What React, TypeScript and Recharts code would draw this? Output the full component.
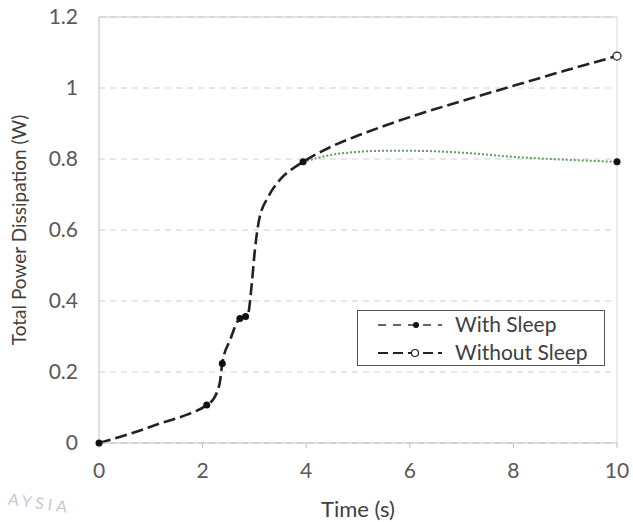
import {
  ComposedChart,
  Line,
  Scatter,
  XAxis,
  YAxis,
  CartesianGrid,
  ReferenceLine,
  Label,
} from 'recharts';

// shared curve (both runs identical until ~4 s)
const rampTime = [0, 0.6, 1.18, 1.7, 2.08, 2.2, 2.27, 2.34, 2.38, 2.53, 2.72, 2.83, 2.88, 2.95, 3.01, 3.09, 3.27, 3.49, 3.75, 3.94];
const rampPower = [0, 0.026, 0.055, 0.08, 0.107, 0.122, 0.14, 0.177, 0.224, 0.29, 0.351, 0.356, 0.365, 0.45, 0.544, 0.628, 0.694, 0.741, 0.774, 0.792];

// after ~4 s
const noSleepTime = [3.94, 4.5, 5, 6, 7, 8, 9, 10];
const noSleepPower = [0.792, 0.836, 0.866, 0.918, 0.963, 1.006, 1.049, 1.09];
const sleepTime = [3.94, 4.5, 5, 5.5, 6, 7, 8, 9, 10];
const sleepPower = [0.792, 0.812, 0.82, 0.823, 0.823, 0.818, 0.806, 0.798, 0.792];

// measured points
const sleepMarkTime = [0, 2.08, 2.38, 2.72, 2.83, 3.94, 10];
const sleepMarkPower = [0, 0.107, 0.224, 0.351, 0.356, 0.792, 0.792];
const noSleepMarkTime = [10];
const noSleepMarkPower = [1.09];

const xTicks = [0, 2, 4, 6, 8, 10];
const yTicks = [0, 0.2, 0.4, 0.6, 0.8, 1, 1.2];

const FONT = 'Lato, "Open Sans", sans-serif';
const TEXT = '#595959';

const zip = (xs: number[], ys: number[]) => xs.map((t, i) => ({ t, p: ys[i] }));

const rampData = zip(rampTime, rampPower);
const noSleepData = [...rampData, ...zip(noSleepTime, noSleepPower).slice(1)];
const sleepTail = zip(sleepTime, sleepPower);
const sleepMarks = zip(sleepMarkTime, sleepMarkPower);
const noSleepMarks = zip(noSleepMarkTime, noSleepMarkPower);

function LegendBox() {
  return (
    <div
      style={{
        position: 'absolute',
        left: 357,
        top: 310,
        width: 248,
        height: 56,
        border: '1px solid #555',
        background: '#fff',
        fontFamily: FONT,
        fontSize: 21,
        lineHeight: '24px',
        color: '#404040',
        boxSizing: 'border-box',
      }}
    >
      <svg width={90} height={54} style={{ position: 'absolute', left: 0, top: 0 }}>
        <line x1={20} y1={14} x2={84} y2={14} stroke="#333" strokeWidth={1.3} strokeDasharray="8 7" />
        <circle cx={58} cy={14} r={3} fill="#111" />
        <line x1={20} y1={42} x2={84} y2={42} stroke="#222" strokeWidth={2.2} strokeDasharray="10 5" />
        <circle cx={57} cy={42} r={3.5} fill="#fff" stroke="#222" strokeWidth={1.2} />
      </svg>
      <div style={{ position: 'absolute', left: 97, top: 1 }}>With Sleep</div>
      <div style={{ position: 'absolute', left: 97, top: 29 }}>Without Sleep</div>
    </div>
  );
}

export default function App() {
  return (
    <div style={{ position: 'absolute', left: 0, top: 0, width: 633, height: 522, background: '#fff' }}>
      <ComposedChart width={633} height={522} margin={{ top: 17, right: 16, bottom: 0, left: 0 }}>
        <CartesianGrid vertical={false} stroke="#d0d0d0" strokeDasharray="6 5" />
        <ReferenceLine y={1.2} stroke="#c8c8c8" />
        <ReferenceLine x={10} stroke="#d8d8d8" />
        <XAxis
          type="number"
          dataKey="t"
          domain={[0, 10]}
          ticks={xTicks}
          height={79}
          stroke="#bfbfbf"
          tickSize={5}
          tickMargin={15}
          tick={{ fontSize: 21, fill: TEXT, fontFamily: FONT }}
        >
          <Label
            value="Time (s)"
            position="insideBottom"
            offset={5}
            style={{ fontSize: 22, fill: '#404040', fontFamily: FONT }}
          />
        </XAxis>
        <YAxis
          type="number"
          dataKey="p"
          domain={[0, 1.2]}
          ticks={yTicks}
          width={99}
          stroke="#bfbfbf"
          tickLine={false}
          tickSize={0}
          tickMargin={21}
          tick={{ fontSize: 21, fill: TEXT, fontFamily: FONT }}
        >
          <Label
            value="Total Power Dissipation (W)"
            angle={-90}
            position="insideLeft"
            offset={19}
            style={{ textAnchor: 'middle', fontSize: 19, fill: '#404040', fontFamily: FONT }}
          />
        </YAxis>
        <Line
          data={sleepTail}
          dataKey="p"
          type="monotone"
          stroke="#5f9e5f"
          strokeWidth={2}
          strokeDasharray="2 2"
          dot={false}
          legendType="none"
          isAnimationActive={false}
        />
        <Line
          data={noSleepData}
          dataKey="p"
          name="Without Sleep"
          type="monotone"
          stroke="#222"
          strokeWidth={2.6}
          strokeDasharray="12 5"
          dot={false}
          isAnimationActive={false}
        />
        <Scatter
          data={noSleepMarks}
          dataKey="p"
          shape={(props: any) => (
            <circle cx={props.cx} cy={props.cy} r={4} fill="#fff" stroke="#222" strokeWidth={1.2} />
          )}
          isAnimationActive={false}
        />
        <Scatter
          data={sleepMarks}
          dataKey="p"
          name="With Sleep"
          shape={(props: any) => <circle cx={props.cx} cy={props.cy} r={3.5} fill="#111" />}
          isAnimationActive={false}
        />
      </ComposedChart>
      <LegendBox />
      <div
        style={{
          position: 'absolute',
          left: 8,
          top: 494,
          fontFamily: FONT,
          fontSize: 16,
          lineHeight: '18px',
          letterSpacing: 4,
          color: '#c4c9da',
          transform: 'rotate(8deg)',
        }}
      >
        AYSIA
      </div>
    </div>
  );
}
